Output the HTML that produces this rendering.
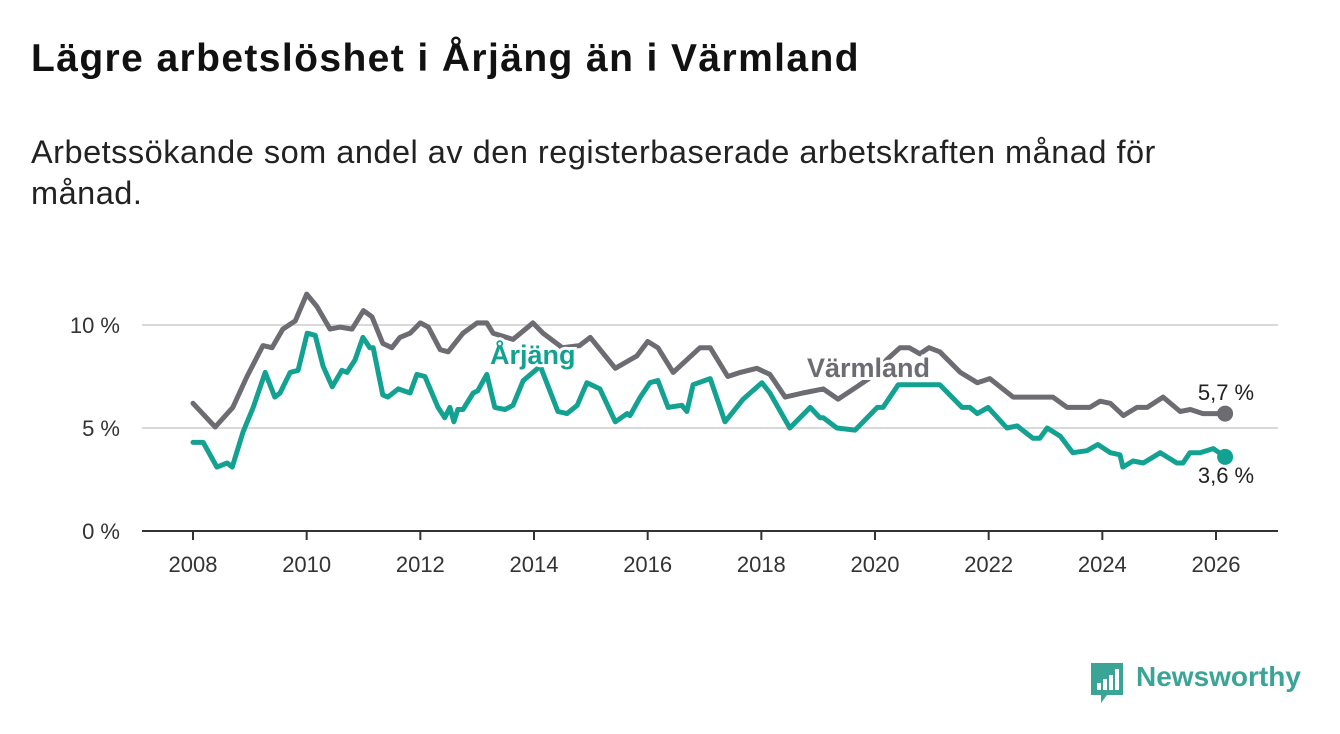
<!DOCTYPE html>
<html><head><meta charset="utf-8"><style>
body{margin:0;background:#fff;width:1340px;height:734px;overflow:hidden;font-family:"Liberation Sans",sans-serif}
h1{position:absolute;left:31px;top:37px;margin:0;font-size:39px;letter-spacing:1.4px;font-weight:bold;color:#111}
.sub{position:absolute;left:31px;top:132px;width:1200px;font-size:32.5px;letter-spacing:0.5px;line-height:41px;color:#222}
</style></head><body>
<h1>Lägre arbetslöshet i Årjäng än i Värmland</h1>
<div class="sub">Arbetssökande som andel av den registerbaserade arbetskraften månad för månad.</div>
<svg id="chart" width="1340" height="734" style="position:absolute;left:0;top:0"></svg>
<script>
const yTicks=[0,5,10];
const yTickLabels=["0 %","5 %","10 %"];
const xTicks=[2008,2010,2012,2014,2016,2018,2020,2022,2024,2026];
const varmlandDates=[2008.0,2008.39,2008.7,2008.95,2009.23,2009.39,2009.58,2009.8,2010.0,2010.18,2010.41,2010.59,2010.8,2011.0,2011.15,2011.34,2011.5,2011.64,2011.82,2012.0,2012.14,2012.35,2012.49,2012.75,2013.0,2013.17,2013.28,2013.63,2013.98,2014.16,2014.5,2014.8,2014.99,2015.43,2015.81,2016.0,2016.18,2016.45,2016.92,2017.1,2017.41,2017.63,2017.92,2018.15,2018.42,2018.73,2019.09,2019.35,2019.68,2020.0,2020.2,2020.44,2020.6,2020.79,2020.95,2021.14,2021.5,2021.8,2022.02,2022.43,2023.13,2023.38,2023.78,2023.96,2024.14,2024.37,2024.61,2024.79,2025.07,2025.37,2025.55,2025.77,2026.16];
const varmlandValues=[6.2,5.05,6.0,7.5,9.0,8.9,9.8,10.2,11.5,10.9,9.8,9.9,9.8,10.7,10.4,9.1,8.9,9.4,9.6,10.1,9.9,8.8,8.7,9.6,10.1,10.1,9.6,9.3,10.1,9.6,8.9,9.0,9.4,7.9,8.5,9.2,8.9,7.7,8.9,8.9,7.5,7.7,7.9,7.6,6.5,6.7,6.9,6.4,7.0,7.6,8.3,8.9,8.9,8.6,8.9,8.7,7.7,7.2,7.4,6.5,6.5,6.0,6.0,6.3,6.2,5.6,6.0,6.0,6.5,5.8,5.9,5.7,5.7];
const arjangDates=[2008.0,2008.18,2008.42,2008.6,2008.69,2008.88,2009.06,2009.27,2009.44,2009.53,2009.71,2009.85,2010.01,2010.15,2010.29,2010.45,2010.62,2010.71,2010.85,2010.99,2011.11,2011.17,2011.34,2011.43,2011.61,2011.82,2011.94,2012.08,2012.31,2012.43,2012.52,2012.59,2012.66,2012.75,2012.93,2013.01,2013.17,2013.31,2013.49,2013.63,2013.81,2014.11,2014.42,2014.58,2014.76,2014.93,2015.16,2015.43,2015.64,2015.69,2015.87,2016.04,2016.18,2016.36,2016.6,2016.69,2016.8,2017.1,2017.36,2017.68,2018.01,2018.15,2018.5,2018.86,2019.03,2019.09,2019.33,2019.65,2020.04,2020.14,2020.41,2020.85,2021.14,2021.53,2021.67,2021.8,2021.99,2022.32,2022.5,2022.78,2022.9,2023.03,2023.26,2023.48,2023.73,2023.92,2024.14,2024.31,2024.36,2024.54,2024.72,2025.02,2025.31,2025.42,2025.54,2025.72,2025.95,2026.16];
const arjangValues=[4.3,4.3,3.1,3.3,3.1,4.8,6.0,7.7,6.5,6.7,7.7,7.8,9.6,9.5,8.0,7.0,7.8,7.7,8.3,9.4,8.9,8.9,6.6,6.5,6.9,6.7,7.6,7.5,6.0,5.5,6.0,5.3,5.9,5.9,6.7,6.8,7.6,6.0,5.9,6.1,7.3,8.0,5.8,5.7,6.1,7.2,6.9,5.3,5.7,5.6,6.5,7.2,7.3,6.0,6.1,5.8,7.1,7.4,5.3,6.4,7.2,6.7,5.0,6.0,5.5,5.5,5.0,4.9,6.0,6.0,7.1,7.1,7.1,6.0,6.0,5.7,6.0,5.0,5.1,4.5,4.5,5.0,4.6,3.8,3.9,4.2,3.8,3.7,3.1,3.4,3.3,3.8,3.3,3.3,3.8,3.8,4.0,3.6];
const endLabels=["5,7 %","3,6 %"];
const NS="http://www.w3.org/2000/svg";
const svg=document.getElementById('chart');
const X=t=>193+(t-2008)*(1216-193)/18;
const Y=v=>531-v*20.6;
function mk(tag,attrs,parent){const e=document.createElementNS(NS,tag);for(const k in attrs)e.setAttribute(k,attrs[k]);(parent||svg).appendChild(e);return e;}
yTicks.forEach((v,i)=>{
  if(v>0){const g=mk('line',{x1:142,x2:1278,y1:Y(v),y2:Y(v),stroke:'#d9d9d9','stroke-width':2});
  
  }
  const t=mk('text',{x:120,y:Y(v)+8,'text-anchor':'end','font-size':22,fill:'#333'});t.textContent=yTickLabels[i];
  
  
});
const ax=mk('line',{x1:142,x2:1278,y1:531,y2:531,stroke:'#333','stroke-width':2});


xTicks.forEach(yr=>{
  const tk=mk('line',{x1:X(yr),x2:X(yr),y1:531,y2:540,stroke:'#333','stroke-width':2});
  
  
  const t=mk('text',{x:X(yr),y:572,'text-anchor':'middle','font-size':22,fill:'#333'});t.textContent=yr;
  
  
});
function series(d,v,color,name){
  const p=mk('path',{d:d.map((t,i)=>(i?'L':'M')+X(t).toFixed(1)+','+Y(v[i]).toFixed(1)).join(''),fill:'none',stroke:color,'stroke-width':5,'stroke-linejoin':'round','stroke-linecap':'round'});
  
  
  const c=mk('circle',{cx:X(d[d.length-1]),cy:Y(v[v.length-1]),r:8,fill:color});
  
  
}
series(varmlandDates,varmlandValues,'#6d6c72','varmland');
series(arjangDates,arjangValues,'#13a292','arjang');
function label(txt,x,y,color,name,bold,size,anchor){
  const t=mk('text',{x:x,y:y,'font-size':size,'font-weight':bold?'bold':'normal',fill:color,stroke:'#fff','stroke-width':bold?6:0,'paint-order':'stroke','text-anchor':anchor||'start'});t.textContent=txt;
  
  
}
label('Årjäng',490,364,'#13a292','arjang-label',true,27);
label('Värmland',807,377,'#6d6c72','varmland-label',true,27);
label(endLabels[0],1226,400,'#222','varmland-end-value',false,22,'middle');
label(endLabels[1],1226,483,'#222','arjang-end-value',false,22,'middle');
</script>
<div style="position:absolute;left:1089px;top:661px;width:230px;height:44px">
<svg width="36" height="44" style="position:absolute;left:0;top:0"><path d="M2 2h32v32H18l-6 8v-8H2z" fill="#3aa597"/><rect x="8" y="22" width="4" height="7" fill="#fff"/><rect x="14" y="18" width="4" height="11" fill="#fff"/><rect x="20" y="14" width="4" height="15" fill="#fff"/><rect x="26" y="8" width="4" height="21" fill="#fff"/></svg>
<span style="position:absolute;left:47px;top:0;font-size:28px;font-weight:bold;color:#3aa597">Newsworthy</span>
</div>
</body></html>
